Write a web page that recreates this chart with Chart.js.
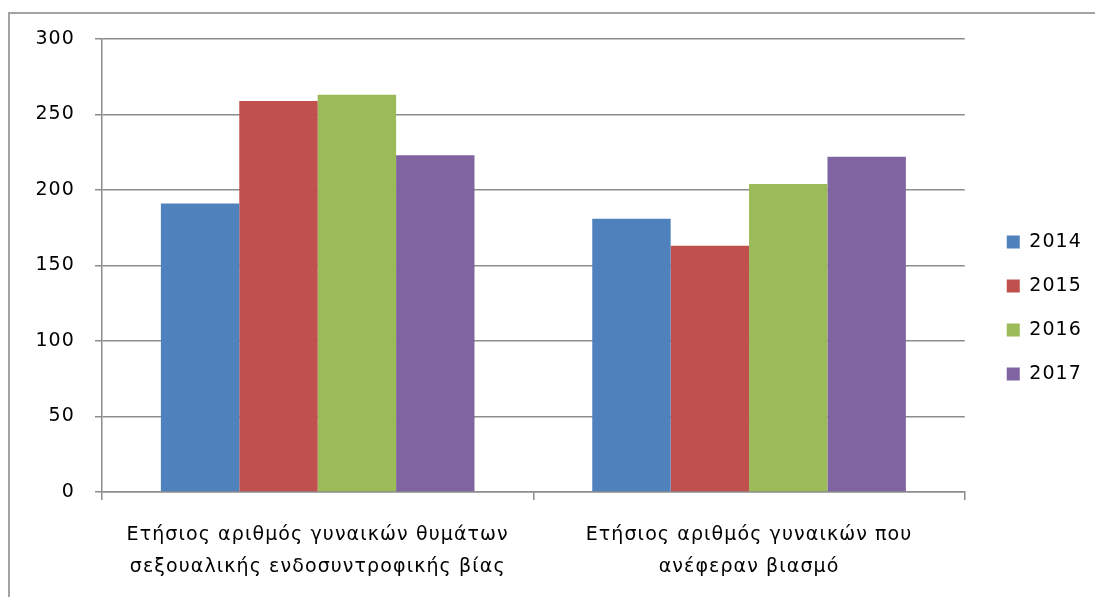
<!DOCTYPE html>
<html>
<head>
<meta charset="utf-8">
<script src="https://cdn.jsdelivr.net/npm/chart.js@4.4.1/dist/chart.umd.min.js"></script>
<style>
  html, body { margin: 0; padding: 0; background: #ffffff; overflow: hidden; width: 1095px; height: 597px; }
  .fline { position: absolute; background: #a3a3a3; }
  #fTop { left: 8px; top: 12px; width: 1087px; height: 2px; }
  #fLeft { left: 8px; top: 12px; width: 2px; height: 585px; }
  #wrap { position: absolute; left: 0; top: 0; width: 1095px; height: 597px; }
</style>
</head>
<body>
<div class="fline" id="fTop"></div>
<div class="fline" id="fLeft"></div>
<div id="wrap"><canvas id="c" width="1095" height="597"></canvas></div>
<script>
const categories = [
  ["Ετήσιος αριθμός γυναικών θυμάτων", "σεξουαλικής ενδοσυντροφικής βίας"],
  ["Ετήσιος αριθμός γυναικών που", "ανέφεραν βιασμό"]
];
const seriesNames = ["2014", "2015", "2016", "2017"];
const values2014 = [191, 181];
const values2015 = [259, 163];
const values2016 = [263, 204];
const values2017 = [223, 222];
const yTickMin = 0;
const yTickMax = 300;
const yTickStep = 50;

const colors = ["#4F81BD", "#C0504D", "#9BBB59", "#8064A2"];
const seriesValues = [values2014, values2015, values2016, values2017];

Chart.defaults.font.family = "'DejaVu Sans', Verdana, sans-serif";
Chart.defaults.color = "#000000";

const gridColor = "#8c8c8c";
const FONT = { size: 19, family: "'DejaVu Sans', Verdana, sans-serif" };

const spacingPlugin = {
  id: "letterSpacing",
  beforeUpdate(chart) { chart.ctx.letterSpacing = "1.1px"; },
  beforeLayout(chart) { chart.ctx.letterSpacing = "1.1px"; },
  beforeDraw(chart) { chart.ctx.letterSpacing = "1.1px"; }
};

new Chart(document.getElementById("c"), {
  type: "bar",
  plugins: [spacingPlugin],
  data: {
    labels: categories,
    datasets: seriesNames.map((name, i) => ({
      label: name,
      data: seriesValues[i],
      backgroundColor: colors[i],
      borderWidth: 0,
      categoryPercentage: 0.727,
      barPercentage: 1.0
    }))
  },
  options: {
    responsive: false,
    animation: false,
    devicePixelRatio: 1,
    layout: { padding: { top: 39, bottom: 20, left: 0, right: 3 } },
    plugins: {
      legend: {
        position: "right",
        align: "center",
        labels: {
          font: FONT,
          color: "#000000",
          boxWidth: 13,
          boxHeight: 13,
          padding: 25
        }
      },
      tooltip: { enabled: false },
      title: { display: false }
    },
    scales: {
      x: {
        type: "category",
        grid: {
          display: true,
          offset: true,
          drawOnChartArea: false,
          drawTicks: true,
          tickLength: 8,
          color: gridColor,
          lineWidth: 1.5
        },
        border: { display: true, color: gridColor, width: 1.5 },
        ticks: {
          font: { size: 19, family: FONT.family, lineHeight: 32 / 19 },
          color: "#000000",
          padding: 19,
          maxRotation: 0,
          minRotation: 0,
          autoSkip: false
        },
        afterFit: (s) => { s.height = 85; }
      },
      y: {
        type: "linear",
        position: "left",
        min: yTickMin,
        max: yTickMax,
        ticks: {
          stepSize: yTickStep,
          font: FONT,
          color: "#000000",
          padding: 20
        },
        grid: {
          color: gridColor,
          lineWidth: 1.5,
          tickLength: 7,
          drawTicks: true
        },
        border: { display: true, color: gridColor, width: 1.5 },
        afterFit: (s) => { s.width = 102; }
      },
      spacer: {
        type: "linear",
        position: "right",
        display: true,
        grid: { display: false, drawTicks: false },
        ticks: { display: false },
        border: { display: false },
        afterFit: (s) => { s.width = 17; }
      }
    }
  }
});
</script>
</body>
</html>
